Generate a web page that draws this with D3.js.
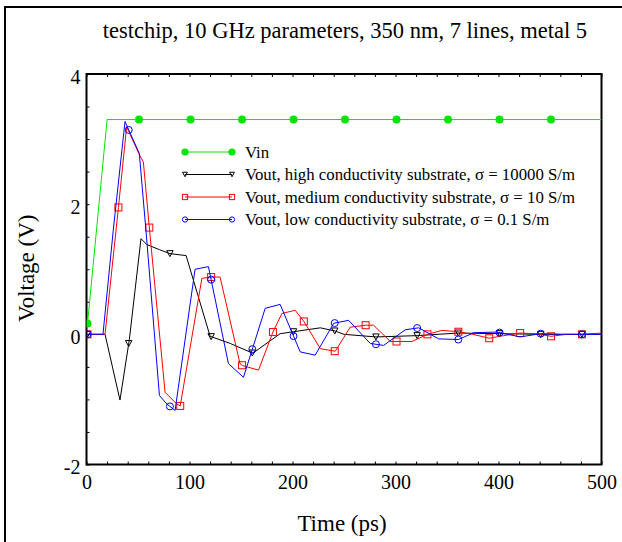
<!DOCTYPE html>
<html>
<head>
<meta charset="utf-8">
<script src="https://cdn.jsdelivr.net/npm/d3@7"></script>
<style>
  body { margin: 0; background: #fff; }
  svg { display: block; }
  text { font-family: "Liberation Serif", "Times New Roman", serif; fill: #000; }
</style>
</head>
<body>
<svg id="chart" width="622" height="542"></svg>
<script>
// ---- chart text ----
const titleText = "testchip, 10 GHz parameters, 350 nm, 7 lines, metal 5";
const xLabel = "Time (ps)";
const yLabel = "Voltage (V)";
const xTickLabels = [0, 100, 200, 300, 400, 500];
const yTickLabels = [-2, 0, 2, 4];

// ---- series: time (ps) and voltage (V) ----
const vinTime = [1, 20, 500];
const vinVolt = [0.165, 3.3, 3.3];
const vinMarks = [1, 51, 101, 151, 201, 251, 301, 351, 401, 451];

const highTime = [1, 18, 32.5, 41.6, 52.9, 58.5, 71, 81, 96.7, 120, 139.5, 161.5, 188, 201, 227, 241.5, 250, 281, 321, 361, 401, 441, 500];
const highVolt = [0, 0, -1.01, -0.08, 1.47, 1.38, 1.3, 1.24, 1.21, -0.03, -0.14, -0.29, 0.01, 0.04, 0.1, 0.05, 0, -0.04, -0.02, 0.02, 0.01, 0, 0];
const highMarks = [1, 41, 81, 121, 161, 201, 241, 281, 321, 361, 401, 441, 481];

const medTime = [1, 18, 31, 39, 51.3, 55.2, 60.7, 76.3, 87.6, 91, 112, 121, 129.7, 149, 151.4, 167, 181, 189.7, 202.6, 211.4, 227, 241.5, 256, 271, 278.7, 295, 316, 331, 345, 361, 375, 391, 405, 421, 436, 451, 466, 481, 500];
const medVolt = [0, 0, 1.95, 3.19, 2.76, 2.65, 1.69, -0.89, -1.07, -1.1, 0.86, 0.88, 0.88, -0.45, -0.48, -0.55, 0.035, 0.32, 0.37, 0.19, -0.22, -0.26, 0.11, 0.14, 0.14, -0.11, -0.11, 0.0, 0.06, 0.04, 0.0, -0.06, -0.02, 0.02, 0.01, -0.03, 0, 0, 0.02];
const medMarks = [1, 31, 61, 91, 121, 151, 181, 211, 241, 271, 301, 331, 361, 391, 421, 451, 481];

const lowTime = [1, 16, 26, 37.4, 41.3, 51.3, 58.5, 70.8, 78, 86, 105.4, 118.4, 137.8, 152.4, 173.5, 188, 207.5, 222, 240, 254.5, 275.5, 288.5, 309.5, 322.5, 342, 361, 376, 398.6, 421, 441, 461, 500];
const lowVolt = [0, 0, 1.6, 3.27, 3.13, 2.78, 1.45, -0.94, -1.07, -1.17, 1.0, 1.04, -0.45, -0.66, 0.40, 0.46, -0.27, -0.32, 0.17, 0.215, -0.14, -0.17, 0.07, 0.1, -0.07, -0.08, 0.025, 0.035, -0.04, 0.01, 0, 0];
const lowMarks = [1, 41, 81, 121, 161, 201, 241, 281, 321, 361, 401, 441, 481];

const legendLabels = [
  "Vin",
  "Vout, high conductivity substrate, \u03c3 = 10000 S/m",
  "Vout, medium conductivity substrate, \u03c3 = 10 S/m",
  "Vout, low conductivity substrate, \u03c3 = 0.1 S/m"
];

const series = [
  { time: vinTime,  volt: vinVolt,  marks: vinMarks,  color: "#00e600", shape: "dot" },
  { time: highTime, volt: highVolt, marks: highMarks, color: "#000000", shape: "tri" },
  { time: medTime,  volt: medVolt,  marks: medMarks,  color: "#ff0000", shape: "square" },
  { time: lowTime,  volt: lowVolt,  marks: lowMarks,  color: "#0000ff", shape: "circle" }
];

// ---- layout ----
const svg = d3.select("#chart");
const plot = { left: 86.5, right: 601.5, top: 74, bottom: 464.5 };

const x = d3.scaleLinear().domain([0, 500]).range([plot.left, plot.right]);
const y = d3.scaleLinear().domain([-2, 4]).range([plot.bottom, plot.top]);

// outer frame (only its left and top edges fall inside the page)
svg.append("rect")
  .attr("x", 5).attr("y", 7).attr("width", 640).attr("height", 560)
  .attr("fill", "none").attr("stroke", "#000").attr("stroke-width", 2);

// title
svg.append("text")
  .attr("x", (plot.left + plot.right) / 2 + 1).attr("y", 38)
  .attr("text-anchor", "middle").attr("font-size", 22.5)
  .text(titleText);

svg.append("defs").append("clipPath").attr("id", "plotClip")
  .append("rect")
  .attr("x", plot.left).attr("y", plot.top)
  .attr("width", plot.right - plot.left).attr("height", plot.bottom - plot.top);

// axes: minor ticks every 20 ps / 0.5 V, labels on the major ones
const xAxis = d3.axisBottom(x)
  .tickValues(d3.range(0, 501, 20))
  .tickSize(-3).tickPadding(10)
  .tickFormat(d => xTickLabels.includes(d) ? String(d) : "");
const gx = svg.append("g").attr("transform", `translate(0,${plot.bottom})`).call(xAxis);

const xTop = d3.axisTop(x).tickValues(d3.range(0, 501, 20)).tickSize(-3).tickFormat("");
const gxt = svg.append("g").attr("transform", `translate(0,${plot.top})`).call(xTop);

const yAxis = d3.axisLeft(y)
  .tickValues(d3.range(-2, 4.01, 0.5))
  .tickSize(-3).tickPadding(6)
  .tickFormat(d => yTickLabels.includes(d) ? String(d) : "");
const gy = svg.append("g").attr("transform", `translate(${plot.left},0)`).call(yAxis);

[gx, gxt, gy].forEach(g => {
  g.select(".domain").remove();
  g.selectAll("line").attr("stroke", "#000").attr("stroke-width", 1);
  g.selectAll("text").attr("font-size", 20)
    .attr("font-family", "'Liberation Serif', 'Times New Roman', serif");
});
gy.selectAll("text").attr("dy", "0.47em");

// plot frame
svg.append("rect")
  .attr("x", plot.left).attr("y", plot.top)
  .attr("width", plot.right - plot.left).attr("height", plot.bottom - plot.top)
  .attr("fill", "none").attr("stroke", "#000").attr("stroke-width", 2);

// axis titles
svg.append("text")
  .attr("x", (plot.left + plot.right) / 2 - 2).attr("y", 531)
  .attr("text-anchor", "middle").attr("font-size", 23)
  .text(xLabel);
svg.append("text")
  .attr("transform", `translate(34,${(plot.top + plot.bottom) / 2 - 1}) rotate(-90)`)
  .attr("text-anchor", "middle").attr("font-size", 23)
  .text(yLabel);

// marker drawing
function drawMarker(g, shape, color, cx, cy, s) {
  if (shape === "dot") {
    g.append("circle").attr("cx", cx).attr("cy", cy).attr("r", 4 * s).attr("fill", color);
  } else if (shape === "circle") {
    g.append("circle").attr("cx", cx).attr("cy", cy).attr("r", 3.5 * s)
      .attr("fill", "none").attr("stroke", color).attr("stroke-width", 1);
  } else if (shape === "square") {
    const h = 3.5 * s;
    g.append("rect").attr("x", cx - h).attr("y", cy - h).attr("width", 2 * h).attr("height", 2 * h)
      .attr("fill", "none").attr("stroke", color).attr("stroke-width", 1);
  } else if (shape === "tri") {
    const w = 3.2 * s, h = 3 * s;
    g.append("path")
      .attr("d", `M${cx - w},${cy - h}L${cx + w},${cy - h}L${cx},${cy + h}Z`)
      .attr("fill", "none").attr("stroke", color).attr("stroke-width", 1);
  }
}

// series lines and markers
const lineGen = d3.line().x(d => x(d[0])).y(d => y(d[1]));
const plotG = svg.append("g").attr("clip-path", "url(#plotClip)");

series.forEach(s => {
  const pts = s.time.map((t, i) => [t, s.volt[i]]);
  plotG.append("path").datum(pts)
    .attr("d", lineGen)
    .attr("fill", "none").attr("stroke", s.color).attr("stroke-width", 1);
  const along = d3.scaleLinear().domain(s.time).range(s.volt);
  const mg = plotG.append("g");
  s.marks.forEach(t => drawMarker(mg, s.shape, s.color, x(t), y(along(t)), 1));
});

// legend
const legend = svg.append("g");
const legendX0 = 185, legendX1 = 232, legendTextX = 245;
const legendY = [152, 174.5, 197, 219.5];
series.forEach((s, i) => {
  const ly = legendY[i];
  legend.append("line")
    .attr("x1", legendX0).attr("x2", legendX1).attr("y1", ly).attr("y2", ly)
    .attr("stroke", s.color).attr("stroke-width", 1);
  drawMarker(legend, s.shape, s.color, legendX0, ly, s.shape === "dot" ? 0.9 : 0.75);
  drawMarker(legend, s.shape, s.color, legendX1, ly, s.shape === "dot" ? 0.9 : 0.75);
  legend.append("text")
    .attr("x", legendTextX).attr("y", ly + 5.5)
    .attr("font-size", 16.8)
    .text(legendLabels[i]);
});
</script>
</body>
</html>
